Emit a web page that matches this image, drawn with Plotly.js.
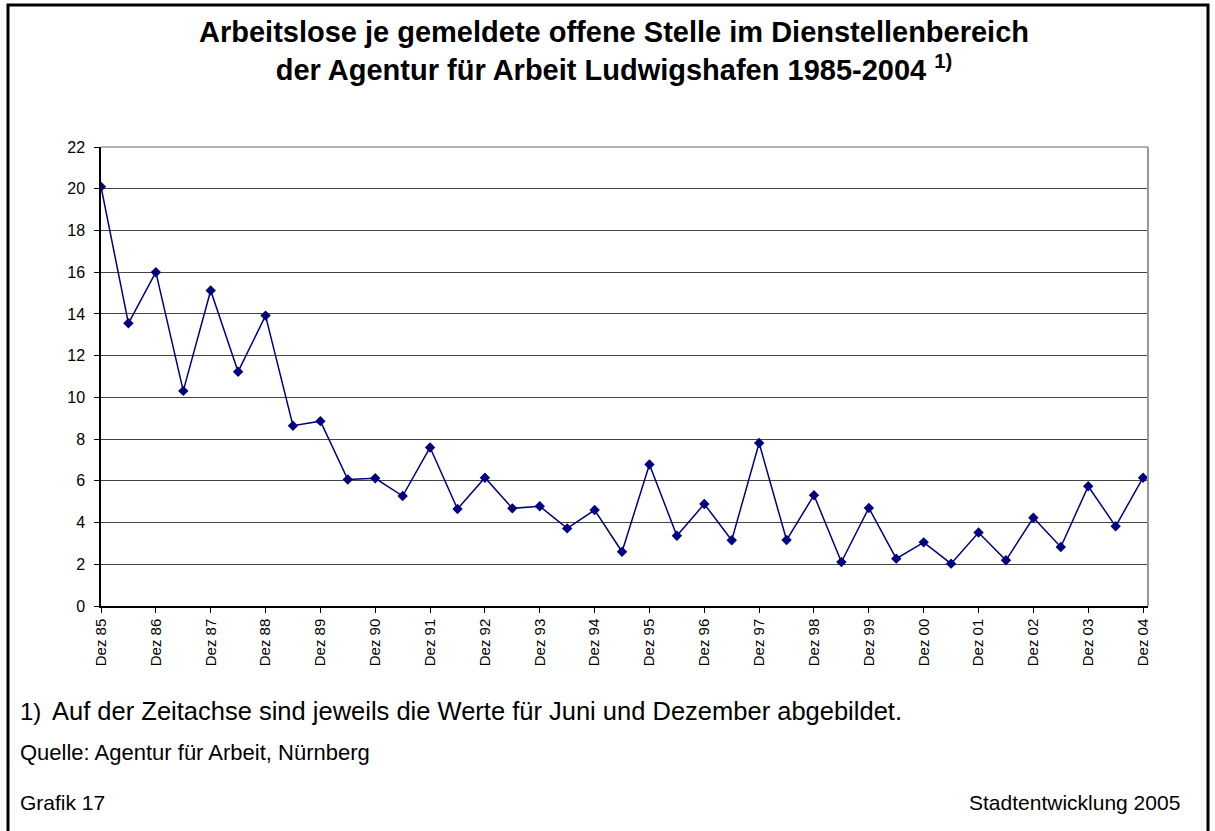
<!DOCTYPE html>
<html>
<head>
<meta charset="utf-8">
<script src="https://cdn.plot.ly/plotly-3.0.1.min.js"></script>
<style>html,body{margin:0;padding:0;background:#fff;}#chart{width:1215px;height:831px;}</style>
</head>
<body>
<div id="chart"></div>
<script>
const categories = ["Dez 85","Jun 86","Dez 86","Jun 87","Dez 87","Jun 88","Dez 88","Jun 89","Dez 89","Jun 90",
  "Dez 90","Jun 91","Dez 91","Jun 92","Dez 92","Jun 93","Dez 93","Jun 94","Dez 94","Jun 95",
  "Dez 95","Jun 96","Dez 96","Jun 97","Dez 97","Jun 98","Dez 98","Jun 99","Dez 99","Jun 00",
  "Dez 00","Jun 01","Dez 01","Jun 02","Dez 02","Jun 03","Dez 03","Jun 04","Dez 04"];
const values = [20.1,13.55,16.0,10.31,15.12,11.23,13.92,8.64,8.86,6.06,
  6.12,5.27,7.6,4.65,6.15,4.68,4.78,3.72,4.6,2.6,
  6.78,3.37,4.89,3.15,7.81,3.16,5.31,2.11,4.7,2.27,
  3.05,2.03,3.52,2.19,4.23,2.83,5.74,3.82,6.15];
const tickLabels = ["Dez 85","Dez 86","Dez 87","Dez 88","Dez 89","Dez 90","Dez 91","Dez 92","Dez 93","Dez 94",
  "Dez 95","Dez 96","Dez 97","Dez 98","Dez 99","Dez 00","Dez 01","Dez 02","Dez 03","Dez 04"];
const yTicks = [0,2,4,6,8,10,12,14,16,18,20,22];

const titleText = "Arbeitslose je gemeldete offene Stelle im Dienstellenbereich<br>der Agentur für Arbeit Ludwigshafen 1985-2004 <sup>1)</sup>";
const footnote = "Auf der Zeitachse sind jeweils die Werte für Juni und Dezember abgebildet.";
const source = "Quelle: Agentur für Arbeit, Nürnberg";
const leftNote = "Grafik 17";
const rightNote = "Stadtentwicklung 2005";

const font = "Liberation Sans, Arial, sans-serif";

const trace = {
  x: categories, y: values, type: "scatter", mode: "lines+markers",
  line: {color: "#000080", width: 1.5},
  marker: {symbol: "diamond", size: 8, color: "#000080"},
  hoverinfo: "x+y"
};

const layout = {
  width: 1215, height: 831,
  margin: {l: 101, r: 67, t: 147, b: 225},
  paper_bgcolor: "#fff", plot_bgcolor: "#fff",
  showlegend: false,
  font: {family: font, color: "#000"},
  title: {
    text: titleText,
    font: {family: font, size: 29, color: "#000", weight: "bold"},
    x: 614/1215, xanchor: "center", xref: "container",
    y: 1 - 42/831, yanchor: "top", yref: "container"
  },
  xaxis: {
    type: "category", categoryorder: "array", categoryarray: categories,
    range: [0, 38.18],
    tickmode: "array", tickvals: tickLabels, ticktext: tickLabels,
    tickangle: -90, tickfont: {family: font, size: 15, color: "#000"},
    ticks: "outside", ticklen: 5, tickcolor: "#000", tickwidth: 1,
    showline: true, linecolor: "#000", linewidth: 1.5,
    showgrid: false, zeroline: false, fixedrange: true
  },
  yaxis: {
    range: [0, 22], tickmode: "array", tickvals: yTicks,
    tickfont: {family: font, size: 16, color: "#000"},
    ticks: "outside", ticklen: 5, tickcolor: "#000", tickwidth: 1,
    ticklabelstandoff: 6,
    showline: true, linecolor: "#000", linewidth: 1.5,
    showgrid: true, gridcolor: "#444", gridwidth: 1,
    zeroline: false, fixedrange: true
  },
  shapes: [
    {type: "line", xref: "paper", yref: "paper", x0: 0, x1: 1, y0: 1, y1: 1, line: {color: "#999", width: 1.5}},
    {type: "line", xref: "paper", yref: "paper", x0: 1, x1: 1, y0: 0, y1: 1, line: {color: "#999", width: 2}},
    {type: "rect", xref: "paper", yref: "paper",
     x0: (8-101)/1047, x1: (1208-101)/1047, y0: (606-845)/459, y1: (606-5)/459,
     line: {color: "#000", width: 3}}
  ],
  annotations: [
    {xref: "paper", yref: "paper", x: (18-101)/1047, y: (606-711)/459, xanchor: "left", yanchor: "middle",
     text: "1)", showarrow: false, font: {family: font, size: 24, color: "#000"}},
    {xref: "paper", yref: "paper", x: (50-101)/1047, y: (606-711)/459, xanchor: "left", yanchor: "middle",
     text: footnote, showarrow: false, font: {family: font, size: 25.5, color: "#000"}},
    {xref: "paper", yref: "paper", x: (18-101)/1047, y: (606-752)/459, xanchor: "left", yanchor: "middle",
     text: source, showarrow: false, font: {family: font, size: 22, color: "#000"}},
    {xref: "paper", yref: "paper", x: (18-101)/1047, y: (606-802)/459, xanchor: "left", yanchor: "middle",
     text: leftNote, showarrow: false, font: {family: font, size: 21, color: "#000"}},
    {xref: "paper", yref: "paper", x: (1182-101)/1047, y: (606-802)/459, xanchor: "right", yanchor: "middle",
     text: rightNote, showarrow: false, font: {family: font, size: 21, color: "#000"}}
  ]
};

Plotly.newPlot("chart", [trace], layout, {displayModeBar: false});
</script>
</body>
</html>
